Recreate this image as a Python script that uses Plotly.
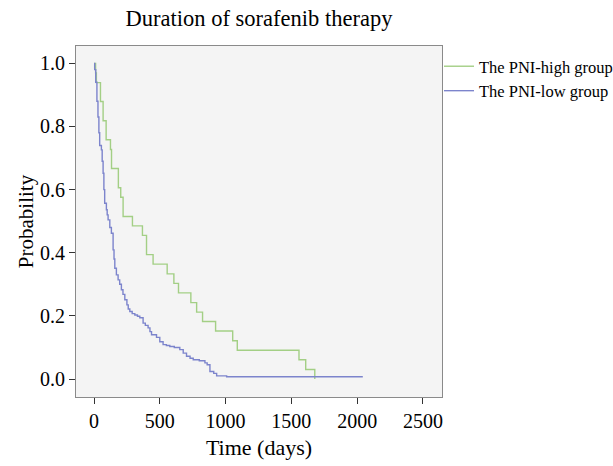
import plotly.graph_objects as go

# PNI-high group: Kaplan-Meier steps (time in days, survival probability)
high_time = [0, 12, 18, 49, 69, 92, 125, 133, 185, 203, 221, 292, 368, 399, 449,
             556, 607, 642, 736, 780, 825, 924, 1054, 1089, 1558, 1609, 1678]
high_surv = [1.0, 0.970, 0.939, 0.879, 0.818, 0.758, 0.727, 0.667, 0.606, 0.576,
             0.515, 0.485, 0.455, 0.394, 0.364, 0.333, 0.303, 0.273, 0.242, 0.212,
             0.182, 0.152, 0.121, 0.091, 0.061, 0.030, 0.0]

# PNI-low group
low_time = [0, 5, 13, 22, 30, 37, 43, 56, 62, 69, 75, 81, 94, 100, 107, 120, 132,
            145, 152, 158, 170, 183, 195, 208, 220, 234, 250, 260, 272, 290, 310,
            330, 348, 373, 390, 411, 425, 437, 475, 500, 525, 550, 576, 610, 652,
            678, 703, 730, 754, 800, 843, 860, 881, 910, 932, 1008, 2043]
low_surv = [1.0, 0.98, 0.94, 0.88, 0.83, 0.78, 0.74, 0.726, 0.69, 0.652, 0.60,
            0.557, 0.536, 0.52, 0.504, 0.48, 0.462, 0.409, 0.38, 0.351, 0.33,
            0.314, 0.30, 0.283, 0.268, 0.251, 0.235, 0.222, 0.214, 0.207, 0.203,
            0.199, 0.194, 0.177, 0.170, 0.162, 0.150, 0.140, 0.132, 0.118, 0.109,
            0.106, 0.103, 0.100, 0.093, 0.082, 0.072, 0.066, 0.061, 0.058, 0.051,
            0.045, 0.024, 0.018, 0.010, 0.007, 0.007]

x_ticks = [0, 500, 1000, 1500, 2000, 2500]
y_ticks = [0.0, 0.2, 0.4, 0.6, 0.8, 1.0]
y_labels = ["0.0", "0.2", "0.4", "0.6", "0.8", "1.0"]

GREEN = "#a3cf85"
BLUE = "#7c84cc"
FONT = "Liberation Serif, Times New Roman, serif"

fig = go.Figure()
fig.add_trace(go.Scatter(x=high_time, y=high_surv, mode="lines", line_shape="hv",
                         line=dict(color=GREEN, width=1.4), name="The PNI-high group"))
fig.add_trace(go.Scatter(x=low_time, y=low_surv, mode="lines", line_shape="hv",
                         line=dict(color=BLUE, width=1.4), name="The PNI-low group"))

axis_common = dict(showline=True, linecolor="#8a8a8a", linewidth=1, mirror=True,
                   ticks="outside", ticklen=6, tickcolor="#333333", tickwidth=1,
                   showgrid=False, zeroline=False, automargin=False,
                   tickfont=dict(family=FONT, size=20, color="black"))

fig.update_layout(
    width=613, height=466,
    margin=dict(l=76, r=171, t=46, b=69, autoexpand=False),
    paper_bgcolor="white", plot_bgcolor="#f4f4f4",
    title=dict(text="Duration of sorafenib therapy", x=259 / 613, xanchor="center",
               y=1 - 18 / 466, yanchor="middle",
               font=dict(family=FONT, size=22.5, color="black")),
    xaxis=dict(range=[-137, 2645], tickvals=x_ticks, ticktext=[str(v) for v in x_ticks],
               title=dict(text="Time (days)", font=dict(family=FONT, size=22, color="black"),
                          standoff=8),
               **axis_common),
    yaxis=dict(range=[-0.057, 1.055], tickvals=y_ticks, ticktext=y_labels,
               title=dict(text="Probability", font=dict(family=FONT, size=21, color="black"),
                          standoff=0),
               **axis_common),
    showlegend=True,
    legend=dict(x=(439 - 76) / 366, xanchor="left", y=1 - 3 / 351, yanchor="top",
                bgcolor="rgba(0,0,0,0)", font=dict(family=FONT, size=16.5, color="black"),
                itemwidth=30, tracegroupgap=0),
)

fig.write_html("out.html", config={"displayModeBar": False},
               post_script="document.body.style.margin='0';")
